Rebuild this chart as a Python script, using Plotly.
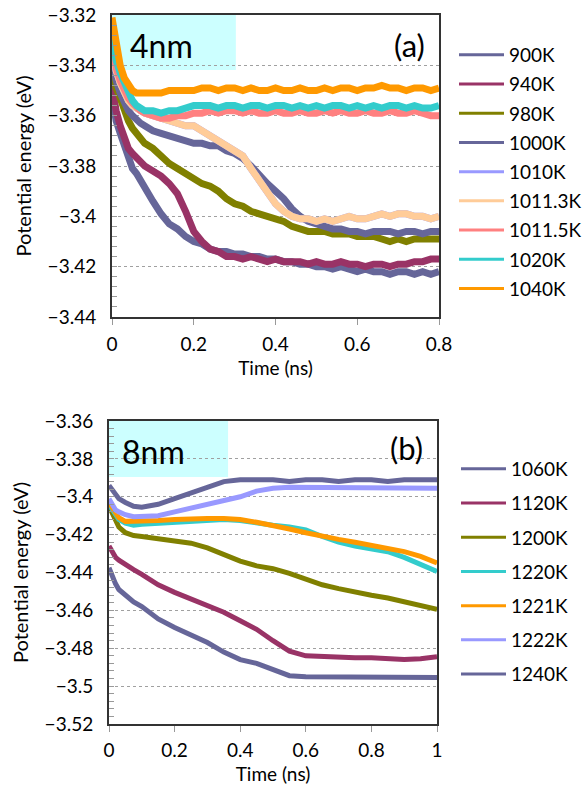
import plotly.graph_objects as go

# ---------------- data: panel (a) 4 nm ----------------
time_a = [0, 0.005, 0.01, 0.02, 0.03, 0.04, 0.05, 0.06, 0.07, 0.08,
          0.10, 0.12, 0.14, 0.16, 0.18, 0.20, 0.22, 0.24, 0.26, 0.28,
          0.30, 0.32, 0.34, 0.36, 0.38, 0.40, 0.42, 0.44, 0.46, 0.48,
          0.50, 0.52, 0.54, 0.56, 0.58, 0.60, 0.62, 0.64, 0.66, 0.68,
          0.70, 0.72, 0.74, 0.76, 0.78, 0.80]

labels_a = ["900K", "940K", "980K", "1000K", "1010K", "1011.3K", "1011.5K", "1020K", "1040K"]

e_900 = [-3.352, -3.358, -3.362, -3.367, -3.372, -3.377, -3.381, -3.383, -3.386, -3.389,
         -3.394, -3.399, -3.403, -3.405, -3.408, -3.410, -3.411, -3.413, -3.414, -3.414,
         -3.415, -3.415, -3.416, -3.416, -3.417, -3.417, -3.418, -3.418, -3.419, -3.419,
         -3.420, -3.420, -3.421, -3.420, -3.421, -3.422, -3.421, -3.422, -3.422, -3.423,
         -3.422, -3.422, -3.423, -3.422, -3.423, -3.422]
e_940 = [-3.348, -3.354, -3.358, -3.364, -3.369, -3.373, -3.375, -3.377, -3.379, -3.380,
         -3.382, -3.384, -3.387, -3.391, -3.398, -3.406, -3.410, -3.413, -3.414, -3.416,
         -3.416, -3.417, -3.416, -3.417, -3.418, -3.417, -3.418, -3.418, -3.418, -3.419,
         -3.418, -3.419, -3.419, -3.418, -3.419, -3.419, -3.420, -3.419, -3.419, -3.420,
         -3.419, -3.419, -3.418, -3.418, -3.417, -3.417]
e_980 = [-3.342, -3.346, -3.349, -3.353, -3.358, -3.362, -3.365, -3.367, -3.369, -3.371,
         -3.373, -3.376, -3.379, -3.381, -3.383, -3.385, -3.387, -3.388, -3.390, -3.393,
         -3.395, -3.396, -3.398, -3.399, -3.400, -3.401, -3.402, -3.404, -3.405, -3.406,
         -3.406, -3.406, -3.407, -3.407, -3.407, -3.408, -3.408, -3.408, -3.409, -3.410,
         -3.409, -3.410, -3.409, -3.409, -3.409, -3.409]
e_1000 = [-3.336, -3.342, -3.346, -3.351, -3.355, -3.358, -3.360, -3.362, -3.363, -3.364,
          -3.366, -3.367, -3.368, -3.369, -3.370, -3.371, -3.371, -3.372, -3.372, -3.374,
          -3.375, -3.377, -3.380, -3.384, -3.387, -3.390, -3.393, -3.397, -3.400, -3.402,
          -3.403, -3.404, -3.405, -3.405, -3.406, -3.406, -3.407, -3.406, -3.406, -3.406,
          -3.407, -3.406, -3.406, -3.407, -3.406, -3.406]
e_1010 = [-3.332, -3.338, -3.342, -3.347, -3.351, -3.354, -3.356, -3.357, -3.358, -3.359,
          -3.360, -3.361, -3.362, -3.363, -3.364, -3.364, -3.366, -3.368, -3.370, -3.372,
          -3.374, -3.376, -3.381, -3.386, -3.391, -3.395, -3.398, -3.400, -3.401, -3.401,
          -3.402, -3.401, -3.402, -3.401, -3.400, -3.401, -3.401, -3.400, -3.399, -3.400,
          -3.399, -3.399, -3.400, -3.400, -3.401, -3.400]
e_1011_3 = [-3.332, -3.338, -3.342, -3.347, -3.351, -3.354, -3.356, -3.357, -3.358, -3.359,
            -3.360, -3.361, -3.362, -3.363, -3.364, -3.364, -3.366, -3.368, -3.370, -3.372,
            -3.374, -3.376, -3.381, -3.386, -3.391, -3.395, -3.398, -3.400, -3.401, -3.401,
            -3.402, -3.401, -3.402, -3.401, -3.400, -3.401, -3.401, -3.400, -3.399, -3.400,
            -3.399, -3.399, -3.400, -3.400, -3.401, -3.400]
e_1011_5 = [-3.331, -3.337, -3.341, -3.346, -3.350, -3.353, -3.355, -3.357, -3.358, -3.359,
            -3.360, -3.361, -3.361, -3.360, -3.360, -3.359, -3.359, -3.358, -3.359, -3.358,
            -3.358, -3.359, -3.358, -3.359, -3.359, -3.358, -3.359, -3.359, -3.358, -3.359,
            -3.359, -3.358, -3.359, -3.358, -3.359, -3.359, -3.358, -3.359, -3.359, -3.358,
            -3.359, -3.359, -3.358, -3.359, -3.360, -3.360]
e_1020 = [-3.328, -3.334, -3.338, -3.343, -3.347, -3.351, -3.354, -3.356, -3.357, -3.358,
          -3.358, -3.359, -3.358, -3.358, -3.357, -3.356, -3.356, -3.356, -3.357, -3.356,
          -3.356, -3.357, -3.356, -3.356, -3.357, -3.356, -3.356, -3.357, -3.356, -3.357,
          -3.356, -3.357, -3.356, -3.356, -3.357, -3.356, -3.357, -3.356, -3.357, -3.356,
          -3.356, -3.357, -3.356, -3.357, -3.357, -3.356]
e_1040 = [-3.321, -3.327, -3.333, -3.340, -3.345, -3.348, -3.350, -3.351, -3.351, -3.351,
          -3.351, -3.351, -3.350, -3.350, -3.350, -3.350, -3.349, -3.349, -3.350, -3.349,
          -3.349, -3.350, -3.349, -3.350, -3.350, -3.349, -3.350, -3.350, -3.349, -3.350,
          -3.350, -3.349, -3.350, -3.349, -3.349, -3.350, -3.349, -3.349, -3.348, -3.349,
          -3.349, -3.350, -3.349, -3.349, -3.350, -3.349]
series_a = [e_900, e_940, e_980, e_1000, e_1010, e_1011_3, e_1011_5, e_1020, e_1040]
colors_a = ["#666699", "#993366", "#808000", "#666699", "#9999ff",
            "#ffcc99", "#ff8080", "#33cccc", "#ff9900"]

# ---------------- data: panel (b) 8 nm ----------------
time_b = [0, 0.01, 0.02, 0.03, 0.05, 0.075, 0.10, 0.15, 0.20, 0.25,
          0.30, 0.35, 0.40, 0.45, 0.50, 0.55, 0.60, 0.65, 0.70, 0.75,
          0.80, 0.85, 0.90, 0.95, 1.00]

labels_b = ["1060K", "1120K", "1200K", "1220K", "1221K", "1222K", "1240K"]

e_1060 = [-3.394, -3.396, -3.399, -3.401, -3.403, -3.405, -3.4055, -3.404, -3.401, -3.398,
          -3.395, -3.392, -3.391, -3.391, -3.391, -3.392, -3.391, -3.391, -3.392, -3.391,
          -3.391, -3.392, -3.391, -3.391, -3.391]
e_1120 = [-3.426, -3.429, -3.432, -3.4335, -3.436, -3.4385, -3.441, -3.4465, -3.4505, -3.454,
          -3.457, -3.461, -3.4655, -3.470, -3.476, -3.4815, -3.484, -3.4845, -3.4845, -3.485,
          -3.485, -3.4855, -3.486, -3.4855, -3.4845]
e_1200 = [-3.405, -3.409, -3.413, -3.416, -3.419, -3.4205, -3.421, -3.422, -3.423, -3.4245,
          -3.427, -3.4305, -3.434, -3.4365, -3.438, -3.4405, -3.4435, -3.4465, -3.4485, -3.4505,
          -3.452, -3.4535, -3.4555, -3.457, -3.4595]
e_1220 = [-3.404, -3.407, -3.410, -3.412, -3.414, -3.415, -3.4145, -3.414, -3.413, -3.4125,
          -3.412, -3.412, -3.4125, -3.414, -3.415, -3.416, -3.4175, -3.421, -3.424, -3.426,
          -3.4275, -3.429, -3.432, -3.4355, -3.4395]
e_1221 = [-3.403, -3.406, -3.409, -3.411, -3.413, -3.413, -3.413, -3.4125, -3.412, -3.4115,
          -3.4115, -3.4115, -3.412, -3.4135, -3.415, -3.417, -3.419, -3.421, -3.4225, -3.424,
          -3.4255, -3.427, -3.429, -3.4315, -3.435]
e_1222 = [-3.401, -3.404, -3.407, -3.408, -3.4095, -3.4105, -3.4105, -3.410, -3.408, -3.406,
          -3.404, -3.402, -3.400, -3.397, -3.3955, -3.395, -3.395, -3.3955, -3.395, -3.395,
          -3.3955, -3.395, -3.3955, -3.3955, -3.3955]
e_1240 = [-3.4375, -3.442, -3.446, -3.449, -3.452, -3.4555, -3.458, -3.4645, -3.469, -3.473,
          -3.477, -3.482, -3.486, -3.488, -3.4915, -3.4945, -3.495, -3.495, -3.495, -3.4955,
          -3.4955, -3.4955, -3.4955, -3.4955, -3.4955]
series_b = [e_1060, e_1120, e_1200, e_1220, e_1221, e_1222, e_1240]
colors_b = ["#666699", "#993366", "#808000", "#33cccc", "#ff9900", "#9999ff", "#666699"]

W, H = 588, 802
def px(x):
    return x / W
def py(y):
    return 1 - y / H

FONT = "Lato, 'Open Sans', sans-serif"

fig = go.Figure()
# data traces (drawn in series order, later on top)
for i, (lab, ys) in enumerate(zip(labels_a, series_a)):
    fig.add_trace(go.Scatter(x=time_a, y=ys, mode="lines", name=lab, showlegend=False,
                             line=dict(color=colors_a[i], width=7),
                             xaxis="x", yaxis="y"))
for i, (lab, ys) in enumerate(zip(labels_b, series_b)):
    fig.add_trace(go.Scatter(x=time_b, y=ys, mode="lines", name=lab, showlegend=False,
                             line=dict(color=colors_b[i], width=5),
                             xaxis="x2", yaxis="y2"))
# legend keys (thin lines, like the reference legend)
for i, lab in enumerate(labels_a):
    fig.add_trace(go.Scatter(x=[None], y=[None], mode="lines", name=lab,
                             line=dict(color=colors_a[i], width=3),
                             xaxis="x", yaxis="y", legend="legend", legendgroup="a" + lab))
for i, lab in enumerate(labels_b):
    fig.add_trace(go.Scatter(x=[None], y=[None], mode="lines", name=lab,
                             line=dict(color=colors_b[i], width=3),
                             xaxis="x2", yaxis="y2", legend="legend2", legendgroup="b" + lab))

axis_common = dict(showline=True, mirror=True, linecolor="#333333", linewidth=2,
                   zeroline=False, automargin=False,
                   tickfont=dict(family=FONT, size=19, color="black"))

fig.update_layout(
    width=W, height=H, margin=dict(l=0, r=0, t=0, b=0, autoexpand=False),
    paper_bgcolor="white", plot_bgcolor="white",
    font=dict(family=FONT, size=19, color="black"),
    xaxis=dict(domain=[px(112), px(439)], range=[0, 0.8], dtick=0.2, anchor="y",
               showgrid=False, ticks="outside", ticklen=6, tickcolor="#999999",
               tickformat="~g", ticklabelstandoff=3,
               title=dict(text="Time (ns)", standoff=8, font=dict(size=19)),
               **axis_common),
    yaxis=dict(domain=[py(317), py(15)], range=[-3.44, -3.32], dtick=0.02, anchor="x",
               showgrid=True, gridcolor="#a0a0a0", griddash="3px,3px", gridwidth=1,
               ticks="inside", ticklen=5, tickcolor="#999999",
               minor=dict(ticks="inside", dtick=0.004, ticklen=5, tickcolor="#999999", showgrid=False),
               tickformat="~g", ticklabelstandoff=10,
               title=dict(text="Potential energy (eV)", standoff=11, font=dict(size=20)),
               **axis_common),
    xaxis2=dict(domain=[px(109), px(437)], range=[0, 1], dtick=0.2, anchor="y2",
                showgrid=False, ticks="outside", ticklen=6, tickcolor="#999999",
                tickformat="~g", ticklabelstandoff=2,
                title=dict(text="Time (ns)", standoff=8, font=dict(size=19)),
                **axis_common),
    yaxis2=dict(domain=[py(724), py(421)], range=[-3.52, -3.36], dtick=0.02, anchor="x2",
                showgrid=True, gridcolor="#a0a0a0", griddash="3px,3px", gridwidth=1,
                ticks="inside", ticklen=5, tickcolor="#999999",
                minor=dict(ticks="inside", dtick=0.004, ticklen=5, tickcolor="#999999", showgrid=False),
                tickformat="~g", ticklabelstandoff=10,
                title=dict(text="Potential energy (eV)", standoff=11, font=dict(size=20)),
                **axis_common),
    legend=dict(x=px(454), y=py(36), xanchor="left", yanchor="top",
                traceorder="grouped", tracegroupgap=1.5, itemwidth=45,
                font=dict(family=FONT, size=19), bgcolor="rgba(0,0,0,0)"),
    legend2=dict(x=px(456), y=py(450), xanchor="left", yanchor="top",
                 traceorder="grouped", tracegroupgap=6.5, itemwidth=45,
                 font=dict(family=FONT, size=19), bgcolor="rgba(0,0,0,0)"),
    showlegend=True,
)

fig.add_shape(type="rect", xref="x", yref="y", x0=0, x1=0.303, y0=-3.3419, y1=-3.32,
              fillcolor="#ccffff", line=dict(width=0), layer="below")
fig.add_shape(type="rect", xref="x2", yref="y2", x0=0, x1=0.363, y0=-3.3896, y1=-3.36,
              fillcolor="#ccffff", line=dict(width=0), layer="below")

fig.add_annotation(x=px(128), y=py(45), xref="paper", yref="paper", text="4nm",
                   showarrow=False, xanchor="left", yanchor="middle",
                   font=dict(family=FONT, size=32, color="black"))
fig.add_annotation(x=px(427), y=py(45), xref="paper", yref="paper", text="(a)",
                   showarrow=False, xanchor="right", yanchor="middle",
                   font=dict(family=FONT, size=31, color="black"))
fig.add_annotation(x=px(120), y=py(451), xref="paper", yref="paper", text="8nm",
                   showarrow=False, xanchor="left", yanchor="middle",
                   font=dict(family=FONT, size=32, color="black"))
fig.add_annotation(x=px(425), y=py(448), xref="paper", yref="paper", text="(b)",
                   showarrow=False, xanchor="right", yanchor="middle",
                   font=dict(family=FONT, size=31, color="black"))

fig.write_html("out.html")
